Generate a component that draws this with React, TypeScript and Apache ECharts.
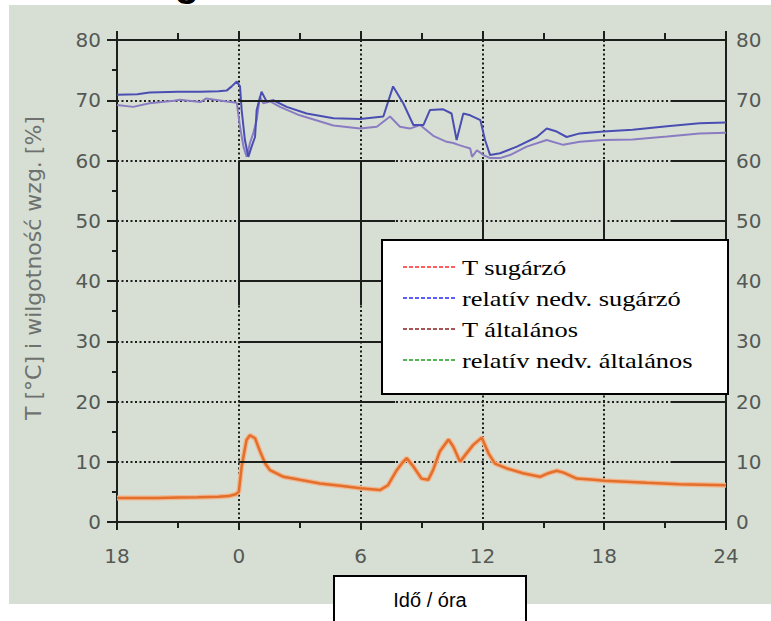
import React, { useEffect, useRef } from "react";
import * as echarts from "echarts";

// ---- Data ----
const xTickHours = [-6, 0, 6, 12, 18, 24];
const xTickLabels = ["18", "0", "6", "12", "18", "24"];

const tHours = [-6, -5, -4, -3, -2, -1, -0.5, -0.15, 0, 0.14, 0.38, 0.55, 0.8, 1.05, 1.3, 1.54, 2.2, 3.0, 4.0, 5.0, 6.0, 6.95, 7.35, 7.78, 8.05, 8.27, 8.6, 9.0, 9.33, 9.57, 9.9, 10.33, 10.57, 10.9, 11.15, 11.55, 11.97, 12.3, 12.62, 13.2, 14.0, 14.84, 15.25, 15.66, 16.0, 16.65, 17.5, 18, 20.1, 21.7, 24];
const tSugarzoValues = [4.0, 4.0, 4.0, 4.05, 4.1, 4.2, 4.3, 4.6, 5.0, 9.2, 13.6, 14.4, 13.9, 11.7, 9.7, 8.6, 7.5, 7.0, 6.4, 6.0, 5.6, 5.3, 6.1, 8.6, 9.8, 10.6, 9.2, 7.2, 7.0, 8.6, 11.7, 13.7, 12.5, 10.0, 11.1, 12.8, 14.0, 11.4, 9.7, 8.9, 8.1, 7.5, 8.1, 8.5, 8.2, 7.2, 7.0, 6.85, 6.5, 6.25, 6.1];
const tAltalanosValues = [4.0, 4.0, 4.0, 4.05, 4.1, 4.2, 4.3, 4.6, 5.0, 9.2, 13.6, 14.4, 13.9, 11.7, 9.7, 8.6, 7.5, 7.0, 6.4, 6.0, 5.6, 5.3, 6.1, 8.6, 9.8, 10.6, 9.2, 7.2, 7.0, 8.6, 11.7, 13.7, 12.5, 10.0, 11.1, 12.8, 14.0, 11.4, 9.7, 8.9, 8.1, 7.5, 8.1, 8.5, 8.2, 7.2, 7.0, 6.85, 6.5, 6.25, 6.1];

const rhSugarzoHours = [-6, -5, -4.4, -3, -1.9, -1, -0.6, -0.35, -0.1, 0.06, 0.14, 0.3, 0.47, 0.63, 0.8, 0.88, 1.12, 1.37, 1.7, 2.36, 3.34, 4.66, 5.97, 7.12, 7.6, 8.1, 8.6, 9.1, 9.42, 10.07, 10.48, 10.73, 11.06, 11.4, 11.9, 12.13, 12.38, 12.87, 13.7, 14.68, 15.17, 15.66, 16.15, 16.8, 17.96, 19.4, 21.1, 22.7, 24];
const rhSugarzoValues = [70.9, 71.0, 71.3, 71.4, 71.4, 71.5, 71.6, 72.3, 73.1, 72.3, 68.4, 63.4, 60.6, 62.3, 63.9, 68.4, 71.4, 69.8, 70.0, 68.9, 67.8, 67.0, 66.9, 67.3, 72.3, 69.5, 65.9, 65.9, 68.4, 68.5, 67.8, 63.4, 67.8, 67.5, 66.7, 63.4, 60.9, 61.2, 62.3, 63.9, 65.3, 64.8, 63.9, 64.5, 64.8, 65.1, 65.7, 66.2, 66.3];

const rhAltalanosHours = [-6, -5.2, -4.4, -3.2, -2.9, -1.9, -1.6, -0.6, -0.1, 0.06, 0.23, 0.39, 0.55, 0.71, 0.88, 1.04, 1.2, 1.54, 2.03, 3.0, 4.66, 5.97, 6.8, 7.45, 7.94, 8.43, 8.93, 9.58, 10.24, 10.57, 10.82, 11.1, 11.4, 11.49, 11.73, 12.06, 12.38, 12.87, 13.36, 14.18, 15.17, 15.98, 16.8, 17.96, 19.4, 21.1, 22.7, 24];
const rhAltalanosValues = [69.2, 68.9, 69.5, 69.9, 70.1, 69.7, 70.3, 69.8, 69.6, 65.6, 62.3, 60.6, 62.9, 64.5, 66.7, 70.6, 69.5, 69.8, 68.9, 67.5, 65.8, 65.3, 65.6, 67.3, 65.6, 65.3, 65.9, 64.1, 63.1, 62.9, 62.6, 62.3, 62.0, 60.6, 61.7, 60.9, 60.4, 60.4, 60.9, 62.3, 63.4, 62.6, 63.1, 63.4, 63.5, 64.0, 64.5, 64.6];

const legendLabels = ["T sugárzó", "relatív nedv. sugárzó", "T általános", "relatív nedv. általános"];
const legendColors = ["#ff2a2a", "#2a2aff", "#8b1f1f", "#1f9a1f"];

const yAxisTitle = "T [°C] i wilgotność wzg. [%]";
const xAxisTitle = "Idő / óra";

const zip = (xs: number[], ys: number[]) => xs.map((x, i) => [x, ys[i]]);

export default function App() {
  const ref = useRef<HTMLDivElement>(null);

  useEffect(() => {
    if (!ref.current) return;
    const chart = echarts.init(ref.current, null, { renderer: "svg" });

    const gridLeft = 117;
    const gridTop = 40;
    const gridRight = 45;
    const gridBottom = 99;
    const black = "#1c1f1c";
    const labelColor = "#555955";

    // solid grid overlay segments (data coordinates)
    const solidSegs: any[] = [];
    [10, 20, 30, 40, 50, 60, 70].forEach((v) => {
      solidSegs.push([{ coord: [0, v] }, { coord: [7.7, v] }]);
      solidSegs.push([{ coord: [21.3, v] }, { coord: [24, v] }]);
    });
    [0, 6, 12, 18].forEach((h) => {
      solidSegs.push([{ coord: [h, 60] }, { coord: [h, 36] }]);
    });

    const legendRowY = [267, 298, 329, 360];

    const option: any = {
      animation: false,
      backgroundColor: "#ffffff",
      grid: { left: gridLeft, right: gridRight, top: gridTop, bottom: gridBottom, containLabel: false },
      xAxis: [
        {
          type: "value",
          position: "bottom",
          min: -6,
          max: 24,
          interval: 6,
          axisLine: { show: true, onZero: false, lineStyle: { color: black, width: 2 } },
          axisTick: { show: true, inside: false, length: 8, lineStyle: { color: black, width: 2 } },
          minorTick: { show: true, splitNumber: 2, length: 6, lineStyle: { color: black, width: 2 } },
          axisLabel: {
            show: true,
            margin: 24,
            color: labelColor,
            fontFamily: "DejaVu Sans",
            fontSize: 20,
            formatter: (v: number) => {
              const i = xTickHours.indexOf(v);
              return i >= 0 ? xTickLabels[i] : "";
            },
          },
          splitLine: { show: true, lineStyle: { color: black, width: 2, type: [2, 2.5] } },
        },
        {
          type: "value",
          position: "top",
          min: -6,
          max: 24,
          interval: 6,
          axisLine: { show: true, onZero: false, lineStyle: { color: black, width: 2 } },
          axisTick: { show: true, inside: false, length: 9, lineStyle: { color: black, width: 2 } },
          minorTick: { show: true, splitNumber: 2, length: 7, lineStyle: { color: black, width: 2 } },
          axisLabel: { show: false },
          splitLine: { show: false },
        },
      ],
      yAxis: [
        {
          type: "value",
          position: "left",
          min: 0,
          max: 80,
          interval: 10,
          axisLine: { show: true, onZero: false, lineStyle: { color: black, width: 2 } },
          axisTick: { show: true, inside: false, length: 10, lineStyle: { color: black, width: 2 } },
          minorTick: { show: true, splitNumber: 2, length: 5, lineStyle: { color: black, width: 2 } },
          axisLabel: { margin: 16, color: labelColor, fontFamily: "DejaVu Sans", fontSize: 20 },
          splitLine: { show: true, lineStyle: { color: black, width: 2, type: [2, 2.5] } },
        },
        {
          type: "value",
          position: "right",
          min: 0,
          max: 80,
          interval: 10,
          axisLine: { show: true, onZero: false, lineStyle: { color: black, width: 2 } },
          axisTick: { show: false },
          axisLabel: { margin: 10, color: labelColor, fontFamily: "DejaVu Sans", fontSize: 20 },
          splitLine: { show: false },
        },
      ],
      series: [
        {
          name: "grid-overlay",
          type: "line",
          data: [],
          silent: true,
          z: 1,
          markLine: {
            silent: true,
            symbol: "none",
            label: { show: false },
            emphasis: { disabled: true },
            lineStyle: { color: black, width: 2, type: "solid" },
            data: solidSegs,
          },
        },
        {
          name: legendLabels[2],
          type: "line",
          data: zip(tHours, tAltalanosValues),
          showSymbol: false,
          lineStyle: { color: "#f3b58c", width: 5 },
          itemStyle: { color: "#f3b58c" },
          z: 3,
        },
        {
          name: legendLabels[0],
          type: "line",
          data: zip(tHours, tSugarzoValues),
          showSymbol: false,
          lineStyle: { color: "#e2702c", width: 2.5 },
          itemStyle: { color: "#e2702c" },
          z: 4,
        },
        {
          name: legendLabels[3],
          type: "line",
          data: zip(rhAltalanosHours, rhAltalanosValues),
          showSymbol: false,
          lineStyle: { color: "#8a7cc2", width: 2 },
          itemStyle: { color: "#8a7cc2" },
          z: 3,
        },
        {
          name: legendLabels[1],
          type: "line",
          data: zip(rhSugarzoHours, rhSugarzoValues),
          showSymbol: false,
          lineStyle: { color: "#4a4eb2", width: 2 },
          itemStyle: { color: "#4a4eb2" },
          z: 4,
        },
      ],
      graphic: [
        {
          type: "rect",
          z: -100,
          silent: true,
          shape: { x: 9, y: 5, width: 762, height: 599 },
          style: { fill: "#d7dfd4" },
        },
        {
          type: "text",
          z: 10,
          x: 187,
          y: 2,
          style: {
            text: "g",
            font: "bold 40px 'Liberation Sans', Arial, sans-serif",
            fill: "#000",
            align: "center",
            verticalAlign: "bottom",
          },
        },
        {
          type: "text",
          z: 10,
          x: 33,
          y: 268,
          rotation: Math.PI / 2,
          style: {
            text: yAxisTitle,
            font: "22px 'DejaVu Sans', sans-serif",
            fill: "#6e726e",
            align: "center",
            verticalAlign: "middle",
          },
        },
        {
          type: "rect",
          z: 20,
          shape: { x: 382, y: 240, width: 346, height: 154 },
          style: { fill: "#ffffff", stroke: "#000", lineWidth: 2 },
        },
        ...legendLabels.map((label, i) => ({
          type: "line",
          z: 21,
          shape: { x1: 403, y1: legendRowY[i], x2: 455, y2: legendRowY[i] },
          style: { stroke: legendColors[i], lineWidth: 1.5, lineDash: [4, 2] },
        })),
        ...legendLabels.map((label, i) => ({
          type: "text",
          z: 21,
          x: 462,
          y: legendRowY[i],
          scaleX: 1.2,
          style: {
            text: label,
            font: "22px 'Liberation Serif', 'Times New Roman', serif",
            fill: "#000",
            align: "left",
            verticalAlign: "middle",
          },
        })),
        {
          type: "rect",
          z: 20,
          shape: { x: 334, y: 576, width: 192, height: 60 },
          style: { fill: "#ffffff", stroke: "#000", lineWidth: 2 },
        },
        {
          type: "text",
          z: 21,
          x: 430,
          y: 600,
          style: {
            text: xAxisTitle,
            font: "20px 'Liberation Sans', Arial, sans-serif",
            fill: "#000",
            align: "center",
            verticalAlign: "middle",
          },
        },
      ],
    };

    chart.setOption(option);
    return () => chart.dispose();
  }, []);

  return (
    <div
      ref={ref}
      style={{ position: "fixed", left: 0, top: 0, width: "771px", height: "621px" }}
    />
  );
}
